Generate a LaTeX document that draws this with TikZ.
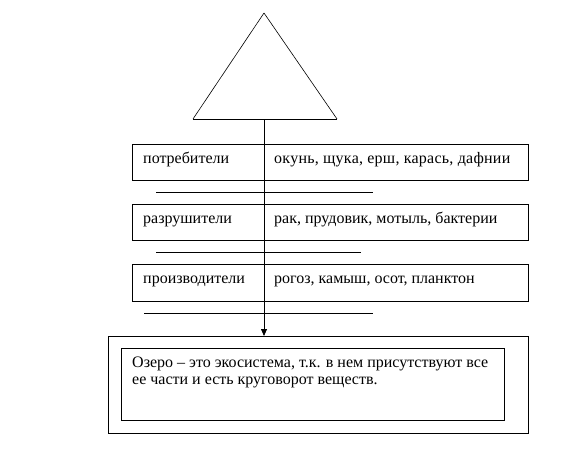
\documentclass[tikz,border=0pt]{standalone}
\usepackage{fontspec}
\setmainfont{Liberation Serif}
\usetikzlibrary{arrows.meta}
\begin{document}
\begin{tikzpicture}[x=1pt,y=-1pt,
  lbl/.style={anchor=base west,inner sep=0pt,font=\fontsize{16}{19}\selectfont},
  frame/.style={draw,line width=0.8pt},
  rule/.style={draw,line width=0.8pt}]
\useasboundingbox (0,0) rectangle (565,469);
% triangle
\coordinate (apex) at (264,13);
\coordinate (bl) at (193,119);
\coordinate (br) at (337,119);
\coordinate (bm) at (264,119);
\draw[line width=0.6pt] (apex) -- (bl);
\draw[line width=0.6pt] (apex) -- (br);
\draw[line width=0.9pt] (bl) -- (br);
% rows
\node[frame,minimum width=396pt,minimum height=36pt,anchor=north west,inner sep=0pt] (r1) at (132,144) {};
\node[frame,minimum width=396pt,minimum height=36pt,anchor=north west,inner sep=0pt] (r2) at (132,204) {};
\node[frame,minimum width=396pt,minimum height=37pt,anchor=north west,inner sep=0pt] (r3) at (132,264) {};
\node[lbl] (t1a) at (143,163) {потребители};
\node[lbl] (t1b) at (274,163) {\addfontfeature{LetterSpace=1.6}окунь, щука, ерш, карась, дафнии};
\node[lbl] (t2a) at (143,223) {разрушители};
\node[lbl] (t2b) at (274,223) {рак, прудовик, мотыль, бактерии};
\node[lbl] (t3a) at (143,283) {производители};
\node[lbl] (t3b) at (274,283) {рогоз, камыш, осот, планктон};
% separators
\coordinate (l1a) at (156,192); \coordinate (l1b) at (373,192);
\coordinate (l2a) at (156,252); \coordinate (l2b) at (361,252);
\coordinate (l3a) at (144,313); \coordinate (l3b) at (373,313);
\draw[rule] (l1a) -- (l1b);
\draw[rule] (l2a) -- (l2b);
\draw[rule] (l3a) -- (l3b);
% bottom boxes
\node[frame,minimum width=420pt,minimum height=97pt,anchor=north west,inner sep=0pt] (outer) at (108,336) {};
\node[frame,minimum width=383pt,minimum height=72pt,anchor=north west,inner sep=0pt] (inner) at (121,348) {};
\node[lbl] (c1) at (132,367) {Озеро – это экосистема, т.к. в нем присутствуют все};
\node[lbl] (c2) at (132,384) {ее части и есть круговорот веществ.};
% vertical arrow
\coordinate (tip) at (264,336);
\draw[line width=0.8pt,-{Triangle[length=7pt,width=6pt]}] (bm) -- (tip);
\end{tikzpicture}
\end{document}
